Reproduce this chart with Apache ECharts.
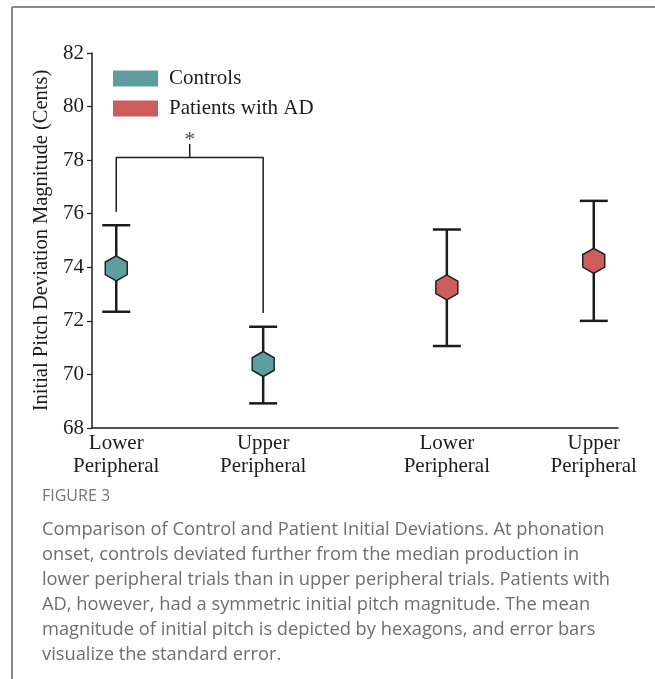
<!DOCTYPE html>
<html><head><meta charset="utf-8">
<script src="https://cdn.jsdelivr.net/npm/echarts@6/dist/echarts.min.js"></script>
<style>html,body{margin:0;padding:0;background:#fff;}#c{width:655px;height:679px;}</style>
</head><body><div id="c"></div>
<script>
// ---- data ----
const positions = [0, 1, 2.25, 3.25];
const tickLabels = ['Lower\nPeripheral', 'Upper\nPeripheral', 'Lower\nPeripheral', 'Upper\nPeripheral'];
const controlsMean = [73.96, 70.39];
const controlsLow  = [72.34, 68.92];
const controlsHigh = [75.57, 71.78];
const patientsMean = [73.25, 74.24];
const patientsLow  = [71.06, 72.00];
const patientsHigh = [75.41, 76.48];
const controlsX = [positions[0], positions[1]];
const patientsX = [positions[2], positions[3]];
const bracketLeftBottom = 76.07;
const bracketTop = 78.1;
const bracketRightBottom = 72.29;
const bracketTickTop = 78.6;
const starY = 78.74;
const yTicks = {min: 68, max: 82, interval: 2};
const captionTitle = 'FIGURE 3';
const captionLines = [
  'Comparison of Control and Patient Initial Deviations. At phonation',
  'onset, controls deviated further from the median production in',
  'lower peripheral trials than in upper peripheral trials. Patients with',
  'AD, however, had a symmetric initial pitch magnitude. The mean',
  'magnitude of initial pitch is depicted by hexagons, and error bars',
  'visualize the standard error.'
];

const teal = '#5f9ea0';
const red = '#cd5c5c';
const ink = '#1c1c1c';
const serif = '"Liberation Serif", "DejaVu Serif", serif';
const hex = 'path://M0,-1 L0.866,-0.5 L0.866,0.5 L0,1 L-0.866,0.5 L-0.866,-0.5 Z';

function errData(xs, lo, hi){ return xs.map((x,i)=>[x, lo[i], hi[i]]); }
function errRender(params, api){
  const x = api.value(0);
  const p1 = api.coord([x, api.value(1)]);
  const p2 = api.coord([x, api.value(2)]);
  const hw = 14;
  const st = {stroke: ink, lineWidth: 2.5};
  return {type:'group', children:[
    {type:'line', shape:{x1:p1[0], y1:p1[1], x2:p2[0], y2:p2[1]}, style:st},
    {type:'line', shape:{x1:p1[0]-hw, y1:p1[1], x2:p1[0]+hw, y2:p1[1]}, style:st},
    {type:'line', shape:{x1:p2[0]-hw, y1:p2[1], x2:p2[0]+hw, y2:p2[1]}, style:st}
  ]};
}

const chart = echarts.init(document.getElementById('c'), null, {renderer:'canvas'});
const graphics = [
  {type:'line', shape:{x1:12, y1:7, x2:655, y2:7}, style:{stroke:'#8a8a8a', lineWidth:2}},
  {type:'line', shape:{x1:12, y1:7, x2:12, y2:679}, style:{stroke:'#8a8a8a', lineWidth:2}},
  {type:'text', left:42, top:488, style:{text:captionTitle, font:'16px "Open Sans", sans-serif', fill:'#757575'}}
];
captionLines.forEach((t,i)=>{
  graphics.push({type:'text', left:42, top:521 + i*25, style:{text:t, font:'18.3px "Open Sans", sans-serif', fill:'#6e6e6e'}});
});

chart.setOption({
  animation:false,
  grid:{left:92, right:37, top:53, bottom:251, containLabel:false},
  legend:{
    data:['Controls','Patients with AD'],
    orient:'vertical', left:108, top:63, itemWidth:45, itemHeight:16, itemGap:9,
    icon:'rect',
    itemStyle:{borderWidth:0},
    textStyle:{fontFamily:serif, fontSize:21, color:ink, padding:[0,0,0,6]}
  },
  xAxis:{
    type:'value', min:-0.165, max:3.415,
    axisLine:{show:true, onZero:false, lineStyle:{color:ink, width:1.5}},
    axisTick:{show:false},
    splitLine:{show:false},
    axisLabel:{
      customValues: positions,
      formatter:function(v){ const i = positions.findIndex(p=>Math.abs(p-v)<1e-6); return i>=0 ? tickLabels[i] : ''; },
      fontFamily:serif, fontSize:21, color:ink, lineHeight:23, margin:4
    }
  },
  yAxis:{
    type:'value', min:yTicks.min, max:yTicks.max, interval:yTicks.interval,
    name:'Initial Pitch Deviation Magnitude (Cents)', nameLocation:'middle', nameGap:39,
    nameTextStyle:{fontFamily:serif, fontSize:20.5, color:ink},
    axisLine:{show:true, onZero:false, lineStyle:{color:ink, width:1.5}},
    axisTick:{show:true, length:5, lineStyle:{color:ink, width:1.2}},
    splitLine:{show:false},
    axisLabel:{fontFamily:serif, fontSize:21, color:ink, margin:8}
  },
  series:[
    {type:'custom', name:'ctrlErr', renderItem:errRender, data:errData(controlsX, controlsLow, controlsHigh), z:2},
    {type:'custom', name:'patErr', renderItem:errRender, data:errData(patientsX, patientsLow, patientsHigh), z:2},
    {type:'scatter', name:'Controls', symbol:hex, symbolSize:[22,25], z:5,
      itemStyle:{color:teal, borderColor:ink, borderWidth:1.5, opacity:1},
      data: controlsX.map((x,i)=>[x, controlsMean[i]])},
    {type:'scatter', name:'Patients with AD', symbol:hex, symbolSize:[22,25], z:5,
      itemStyle:{color:red, borderColor:ink, borderWidth:1.5, opacity:1},
      data: patientsX.map((x,i)=>[x, patientsMean[i]])},
    {type:'line', name:'bracket', symbol:'none', silent:true, z:3,
      lineStyle:{color:ink, width:1.5},
      data:[[positions[0], bracketLeftBottom],[positions[0], bracketTop],[positions[1], bracketTop],[positions[1], bracketRightBottom]]},
    {type:'line', name:'bracketTick', symbol:'none', silent:true, z:3,
      lineStyle:{color:ink, width:1.5},
      data:[[(positions[0]+positions[1])/2, bracketTop],[(positions[0]+positions[1])/2, bracketTickTop]]},
    {type:'scatter', name:'star', symbolSize:0, silent:true,
      label:{show:true, position:'inside', formatter:'*', fontFamily:serif, fontSize:22, color:ink},
      data:[[(positions[0]+positions[1])/2, starY]]}
  ],
  graphic: graphics
});
</script></body></html>
